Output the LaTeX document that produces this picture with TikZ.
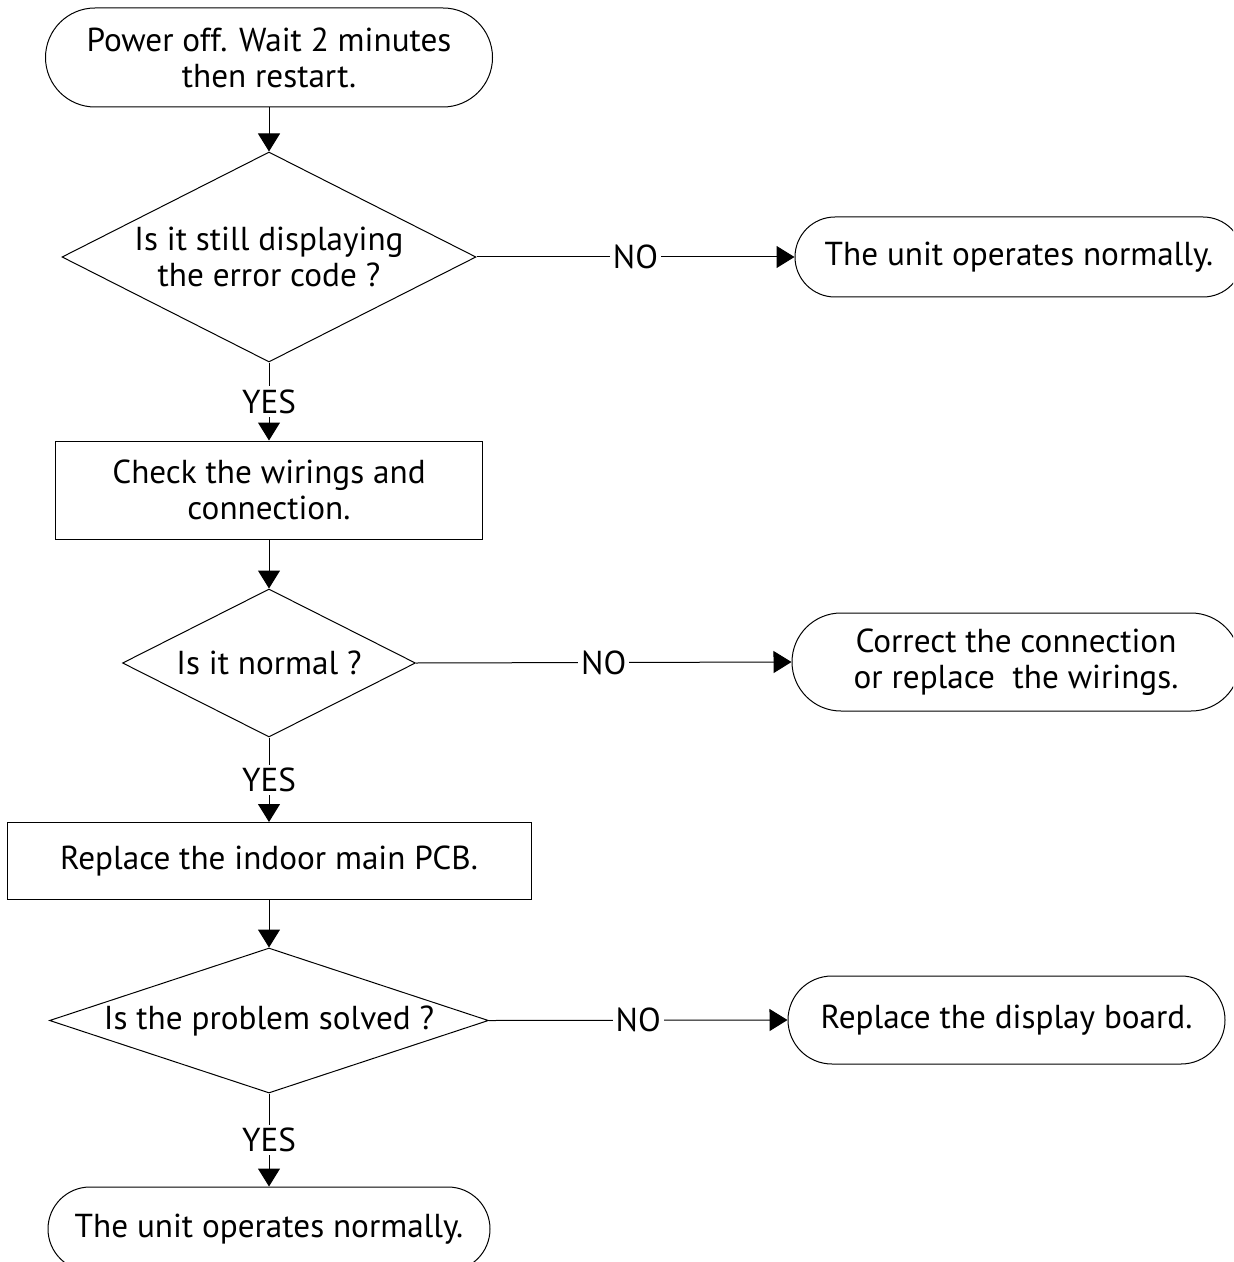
\documentclass[tikz,border=0pt]{standalone}
\usepackage{fontspec}
\setmainfont{PT Sans}
\usetikzlibrary{shapes.geometric,shapes.misc,arrows.meta}
\begin{document}
\begin{tikzpicture}[x=0.5pt,y=-0.5pt,
  font=\fontsize{16.6}{18}\selectfont,
  every node/.style={inner sep=0pt, align=center},
  term/.style={rounded rectangle, draw, line width=0.5pt},
  procbox/.style={rectangle, draw, line width=0.5pt},
  decide/.style={diamond, draw, line width=0.5pt},
  arr/.style={line width=0.5pt, -{Triangle[width=11pt,length=9pt]}},
  lbl/.style={fill=white, inner sep=1.5pt}]
\useasboundingbox (0,0) rectangle (1233,1262);
\clip (0,0) rectangle (1233,1262);
\node[term, minimum width=223.5pt, minimum height=49.5pt] (t0) at (269,57.5) {Power off. Wait 2 minutes\\then restart.};
\node[decide, minimum width=207pt, minimum height=105pt, label={[align=center]center:Is it still displaying\\the error code ?}] (d1) at (269,257) {};
\node[term, minimum width=224pt, minimum height=40pt] (t1) at (1019,257) {The unit operates normally.};
\node[procbox, minimum width=213.5pt, minimum height=49pt] (r1) at (269,490) {Check the wirings and\\connection.};
\node[decide, minimum width=146.5pt, minimum height=74pt, label={center:Is it normal ?}] (d2) at (269,663) {};
\node[term, minimum width=224pt, minimum height=49pt] (t2) at (1016,662) {Correct the connection\\or replace\ \ the wirings.};
\node[procbox, minimum width=262pt, minimum height=38.5pt] (r2) at (269,861) {Replace the indoor main PCB.};
\node[decide, minimum width=219.5pt, minimum height=72.5pt, label={center:Is the problem solved ?}] (d3) at (269,1020.5) {};
\node[term, minimum width=218.5pt, minimum height=44pt] (t3) at (1006.5,1020) {Replace the display board.};
\node[term, minimum width=221pt, minimum height=42pt] (t4) at (269,1229) {The unit operates normally.};
\draw[arr] (t0.south) -- (d1.north);
\draw[arr] (d1.east) -- node[lbl]{NO} (t1.west);
\draw[arr] (d1.south) -- node[lbl]{YES} (r1.north);
\draw[arr] (r1.south) -- (d2.north);
\draw[arr] (d2.east) -- node[lbl]{NO} (t2.west);
\draw[arr] (d2.south) -- node[lbl]{YES} (r2.north);
\draw[arr] (r2.south) -- (d3.north);
\draw[arr] (d3.east) -- node[lbl]{NO} (t3.west);
\draw[arr] (d3.south) -- node[lbl]{YES} (t4.north);
\end{tikzpicture}
\end{document}
